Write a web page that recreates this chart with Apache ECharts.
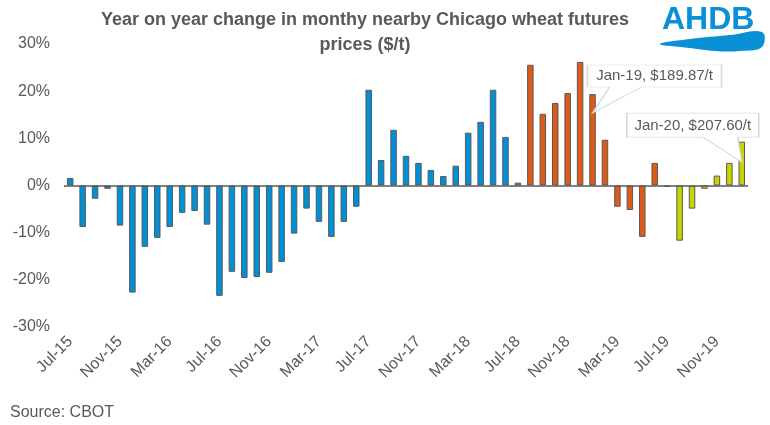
<!DOCTYPE html>
<html>
<head>
<meta charset="utf-8">
<script src="https://cdn.jsdelivr.net/npm/echarts@6/dist/echarts.min.js"></script>
<style>
html,body{margin:0;padding:0;background:#fff;}
#chart{width:770px;height:425px;}
</style>
</head>
<body>
<div id="chart"></div>
<script>
// ---- data ----
var categories = [
  'Jul-15','Aug-15','Sep-15','Oct-15','Nov-15','Dec-15',
  'Jan-16','Feb-16','Mar-16','Apr-16','May-16','Jun-16','Jul-16','Aug-16','Sep-16','Oct-16','Nov-16','Dec-16',
  'Jan-17','Feb-17','Mar-17','Apr-17','May-17','Jun-17','Jul-17','Aug-17','Sep-17','Oct-17','Nov-17','Dec-17',
  'Jan-18','Feb-18','Mar-18','Apr-18','May-18','Jun-18','Jul-18','Aug-18','Sep-18','Oct-18','Nov-18','Dec-18',
  'Jan-19','Feb-19','Mar-19','Apr-19','May-19','Jun-19','Jul-19','Aug-19','Sep-19','Oct-19','Nov-19','Dec-19',
  'Jan-20'
];
var yoyChange = [
  1.6, -8.8, -2.8, -0.7, -8.5, -22.7,
  -13.0, -11.1, -8.8, -5.8, -5.4, -8.3, -23.4, -18.3, -19.6, -19.4, -18.5, -16.2,
  -10.2, -4.9, -7.7, -10.9, -7.7, -4.5, 20.3, 5.4, 11.8, 6.3, 4.8, 3.3,
  2.0, 4.2, 11.2, 13.5, 20.3, 10.3, 0.6, 25.6, 15.2, 17.5, 19.6, 26.2,
  19.4, 9.7, -4.5, -5.2, -10.9, 4.8, -0.3, -11.7, -4.9, -0.7, 2.1, 4.8,
  9.3
];
// marketing-year starts (colour changes)
var seasonStarts = ['Jul-18', 'Jul-19'];
var seasonColors = ['#0090D5', '#DD5A18', '#C8D300'];
var callouts = [
  { month: 'Jan-19', text: 'Jan-19, $189.87/t' },
  { month: 'Jan-20', text: 'Jan-20, $207.60/t' }
];
var yTicks = [-30, -20, -10, 0, 10, 20, 30];

var GREY = '#595959';
var FONT = 'Liberation Sans, Arial, sans-serif';

function seasonIndex(i) {
  var s = 0;
  for (var k = 0; k < seasonStarts.length; k++) {
    if (i >= categories.indexOf(seasonStarts[k])) s = k + 1;
  }
  return s;
}

var barData = yoyChange.map(function (v, i) {
  return { value: v, itemStyle: { color: seasonColors[seasonIndex(i)] } };
});

// callout shapes (box with pointer), anchored at the data point
var calloutShapes = [
  { path: 'path://M0,0 L134,0 L134,22 L54,22 L5,48 L22,22 L0,22 Z', size: [134, 48], offset: [62, -5], labelOffset: [0, -13] },
  { path: 'path://M0,0 L132,0 L132,24 L111,24 L115,49 L76,24 L0,24 Z', size: [132, 49], offset: [-49, -4], labelOffset: [0, -12] }
];
var markPoints = callouts.map(function (c, k) {
  var idx = categories.indexOf(c.month);
  var sh = calloutShapes[k];
  return {
    coord: [idx, yoyChange[idx]],
    symbol: sh.path,
    symbolSize: sh.size,
    symbolOffset: sh.offset,
    symbolKeepAspect: false,
    itemStyle: { color: '#ffffff', borderColor: '#D9D9D9', borderWidth: 1 },
    label: {
      show: true, formatter: c.text, position: 'inside', offset: sh.labelOffset,
      color: GREY, fontSize: 15, fontFamily: FONT
    }
  };
});

var chart = echarts.init(document.getElementById('chart'), null, { renderer: 'canvas' });
chart.setOption({
  animation: false,
  backgroundColor: '#ffffff',
  title: [
    {
      text: 'Year on year change in monthy nearby Chicago wheat futures\nprices ($/t)',
      left: 360, top: 3, textAlign: 'center',
      textStyle: { color: GREY, fontSize: 18, fontWeight: 'bold', fontFamily: FONT, lineHeight: 25 }
    },
    {
      text: 'Source: CBOT',
      left: 5, top: 400,
      textStyle: { color: GREY, fontSize: 16, fontWeight: 'normal', fontFamily: FONT }
    }
  ],
  grid: { left: 64, right: 22, top: 44, bottom: 98, containLabel: false },
  xAxis: {
    type: 'category',
    data: categories,
    boundaryGap: true,
    axisLine: { show: false, onZero: false },
    axisTick: { show: false },
    axisLabel: {
      interval: 3, rotate: 45, margin: 12,
      color: GREY, fontSize: 16, fontFamily: FONT
    },
    splitLine: { show: false }
  },
  yAxis: {
    type: 'value',
    min: yTicks[0], max: yTicks[yTicks.length - 1], interval: 10,
    axisLine: { show: false },
    axisTick: { show: false },
    splitLine: { show: false },
    axisLabel: {
      margin: 14, color: GREY, fontSize: 16, fontFamily: FONT,
      formatter: function (v) { return v + '%'; }
    }
  },
  series: [{
    type: 'bar',
    data: barData,
    barWidth: 6.5,
    itemStyle: { borderColor: GREY, borderWidth: 1 },
    markLine: {
      silent: true, symbol: 'none', label: { show: false },
      lineStyle: { color: GREY, width: 1.5, type: 'solid' },
      data: [{ yAxis: 0 }]
    },
    markPoint: { silent: true, data: markPoints }
  }],
  graphic: [
    {
      type: 'text', x: 662, y: 4,
      style: { text: 'AHDB', fill: '#0A90D4', font: 'bold 32px ' + FONT }
    },
    {
      type: 'polygon', x: 660, y: 32,
      shape: { points: [[0,12],[30,7],[70,3],[102,0],[102,15],[80,19],[55,19],[30,16]], smooth: 0.4 },
      style: { fill: '#0A90D4' }
    }
  ]
});
</script>
</body>
</html>
